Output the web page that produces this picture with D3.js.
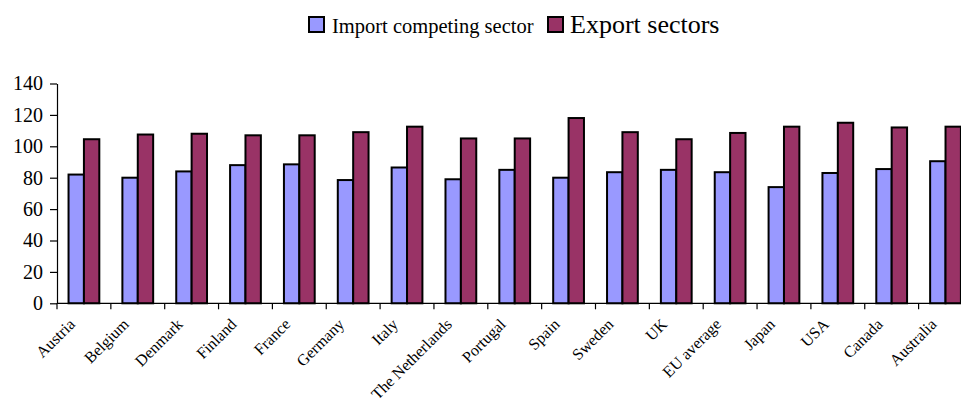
<!DOCTYPE html>
<html><head><meta charset="utf-8">
<script src="https://cdn.jsdelivr.net/npm/d3@7"></script>
<style>
body{margin:0;background:#fff;}
svg{display:block;font-family:"Liberation Serif","Times New Roman",serif;}
</style></head><body>
<svg id="c" width="961" height="398"></svg>
<script>
const categories = ["Austria","Belgium","Denmark","Finland","France","Germany","Italy","The Netherlands","Portugal","Spain","Sweden","UK","EU average","Japan","USA","Canada","Australia"];
const importValues = [82,80,84,88,88.5,78.5,86.5,79,85,80,83.5,85,83.5,74,83,85.5,90.5];
const exportValues = [104.5,107.5,108,107,107,109,112.5,105,105,118,109,104.5,108.5,112.5,115,112,112.5];
const seriesNames = ["Import competing sector","Export sectors"];
const seriesColors = ["#9999FF","#993366"];
const yTicks = [0,20,40,60,80,100,120,140];

(function(){
const svg = d3.select("#c");
const mLeft = 57, mBottom = 303.3, mTop = 83.5, step = 53.85;
const x0 = d3.scaleBand().domain(categories).range([mLeft, mLeft + step*categories.length]).padding(0);
const x1 = d3.scaleBand().domain(seriesNames).range([0, x0.bandwidth()]).paddingInner(0).paddingOuter(0.75);
const y = d3.scaleLinear().domain([0,140]).range([mBottom, mTop]);

// y axis
const ya = svg.append("g").attr("transform",`translate(${mLeft},0)`)
  .call(d3.axisLeft(y).tickValues(yTicks).tickSize(7).tickSizeOuter(0).tickPadding(7).tickFormat(d3.format("d")));
ya.select(".domain").attr("stroke","#000").attr("stroke-width",1.2);
ya.selectAll(".tick line").attr("stroke","#000").attr("stroke-width",1.2);
ya.selectAll(".tick text").attr("font-family","Liberation Serif, Times New Roman, serif").attr("font-size",20).attr("fill","#000");

// bars
const data = categories.map((c,i)=>({c, vals:[importValues[i], exportValues[i]]}));
const g = svg.append("g");
data.forEach(d=>{
  d.vals.forEach((v,j)=>{
    g.append("rect")
      .attr("x", x0(d.c) + x1(seriesNames[j]))
      .attr("y", y(v))
      .attr("width", x1.bandwidth())
      .attr("height", y(0)-y(v))
      .attr("fill", seriesColors[j])
      .attr("stroke","#000").attr("stroke-width",2);
  });
});

// x axis
const xa = svg.append("g").attr("transform",`translate(0,${mBottom})`);
xa.append("line").attr("x1",mLeft).attr("x2",961).attr("stroke","#000").attr("stroke-width",1.2);
categories.forEach((c,i)=>{
  const bx = x0(c);
  xa.append("line").attr("x1",bx).attr("x2",bx).attr("y1",0).attr("y2",6).attr("stroke","#000").attr("stroke-width",1.2);
  const cx = bx + x0.bandwidth()/2;
  xa.append("text").attr("text-anchor","end")
    .attr("transform",`translate(${cx-8},${22}) rotate(-45)`)
    .attr("font-size",16).attr("fill","#000").text(c);
});

// legend
const leg = svg.append("g");
leg.append("rect").attr("x",309).attr("y",17).attr("width",15).attr("height",15).attr("fill",seriesColors[0]).attr("stroke","#000").attr("stroke-width",2);
leg.append("text").attr("x",332).attr("y",33).attr("font-size",20.5).text(seriesNames[0]);
leg.append("rect").attr("x",548).attr("y",17).attr("width",15).attr("height",15).attr("fill",seriesColors[1]).attr("stroke","#000").attr("stroke-width",2);
leg.append("text").attr("x",570).attr("y",33).attr("font-size",26).text(seriesNames[1]);
})();
</script>
</body></html>
